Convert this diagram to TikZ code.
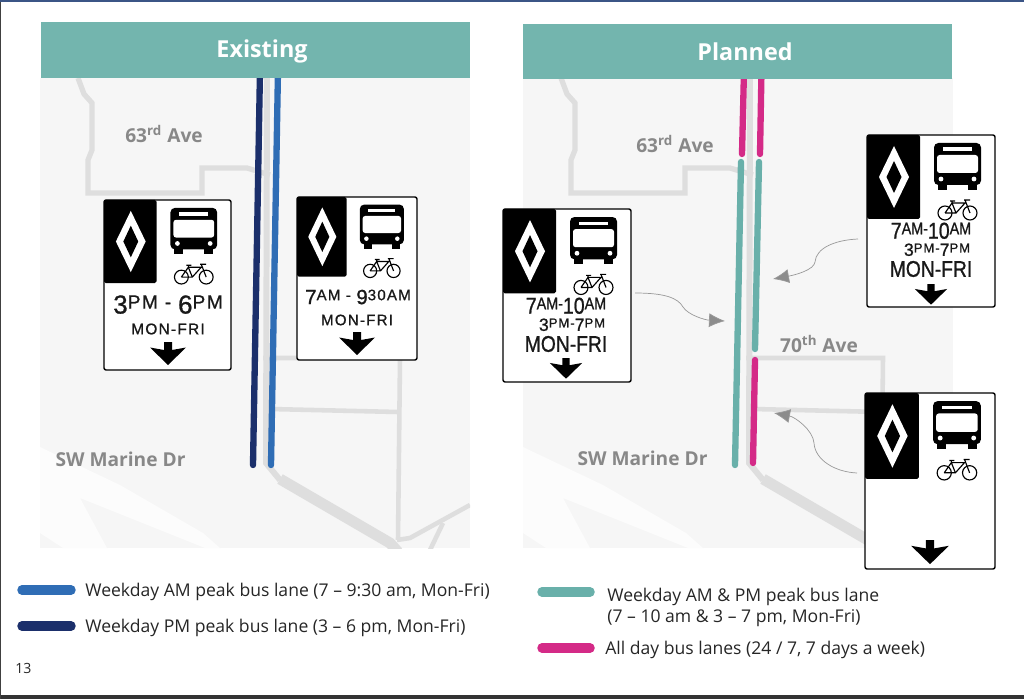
\documentclass[tikz,border=0pt]{standalone}
\usepackage{fontspec}
\setmainfont{Open Sans}
\newfontfamily\signfont[FakeStretch=0.85, FakeBold=0.9]{Liberation Sans}
\newfontfamily\signwide[LetterSpace=8, FakeBold=0.9]{Liberation Sans}
\usetikzlibrary{arrows.meta}
\definecolor{teal}{HTML}{73B5AE}
\definecolor{topband}{HTML}{3B5586}
\definecolor{lanenavy}{HTML}{1B2F6B}
\definecolor{laneblue}{HTML}{2F6DB5}
\definecolor{laneteal}{HTML}{69B0AA}
\definecolor{lanepink}{HTML}{D42A87}
\definecolor{roadgrey}{HTML}{DEDEDE}
\definecolor{mapgrey}{HTML}{F6F6F6}
\definecolor{labelgrey}{HTML}{888888}
\tikzstyle{header}=[fill=teal, minimum width=8.58cm, minimum height=1.12cm, inner sep=0pt]
\tikzstyle{headertext}=[text=white, font=\bfseries\fontsize{13.3}{13.3}\selectfont, inner sep=0pt]
\tikzstyle{road}=[draw=roadgrey, line width=3pt]
\tikzstyle{thinroad}=[draw=roadgrey, line width=2.6pt]
\tikzstyle{lane}=[line width=3.6pt, line cap=round]
\tikzstyle{legendline}=[line width=5.4pt, line cap=round]
\tikzstyle{maplabel}=[text=labelgrey, font=\bfseries\fontsize{10.9}{10.9}\selectfont, inner sep=0pt]
\tikzstyle{legendtext}=[anchor=west, align=left, inner sep=0pt, text=black!85, font=\fontsize{10}{12}\selectfont]
\tikzstyle{signbox}=[draw=black, fill=white, line width=.8pt, rounded corners=1.2pt, inner sep=0pt]
\tikzstyle{signtext}=[inner sep=0pt, text=black!90]
\tikzstyle{curl}=[draw=black!40, line width=.4pt, -{Latex[length=3.2mm, width=2.8mm, fill=black!45]}]
\newcommand{\bigd}[1]{\smash{\raisebox{-.26em}{\scalebox{1.36}{#1}}}}
\newcommand{\mapbase}[1]{
	\begin{scope}[shift={(#1,0)}]
		\clip (40,78) rectangle (470,548);
		\fill[mapgrey] (40,78) rectangle (470,548);
		\fill[white!70!mapgrey] (40,447) -- (120,485) -- (203,533) -- (220,548) -- (205,548) -- (80,498) -- (107,548) -- (63,548) -- (40,533) -- cycle;
		\path[road] (78,78) -- (84,94) -- (92,103) -- (92,150) -- (88,160) -- (88,193) -- (202,193) -- (202,168) -- (247,168) -- (270,175);
		\path[road, line width=3.4pt] (267,78) -- (266,463) -- (280,480);
		\path[road, line width=6.2pt] (280,479) -- (390,543) -- (398,552);
		\path[thinroad] (263,358) -- (400,358) -- (398,540);
		\path[thinroad] (270,409) -- (398,412);
		\path[thinroad] (397,540) -- (410,538) -- (470,505);
		\path[thinroad] (430,550) -- (443,523);
	\end{scope}
}
\newcommand{\hovsign}[5]{
	\node (#1) at ({#2+#4/2},{#3+#5/2})[signbox, minimum width=#4*0.02cm, minimum height=#5*0.02cm] {};
	\begin{scope}[shift={(#2,#3)}, xscale=#4/128, yscale=#5/172]
		\fill[black, rounded corners=1pt] (0,0) rectangle (53,84);
		\fill[white] (27,11) -- (42,42) -- (27,73) -- (12,42) -- cycle;
		\fill[black] (27,26) -- (34.5,42) -- (27,58) -- (19.5,42) -- cycle;
		\fill[black, rounded corners=2.5pt] (67,8) rectangle (114,50);
		\fill[black] (71,49) rectangle (80,55);
		\fill[black] (101,49) rectangle (110,55);
		\fill[white, rounded corners=1.5pt] (70,20) rectangle (111,38);
		\fill[white] (76,12.5) rectangle (105,16);
		\fill[white] (74,44) circle [radius=2.4];
		\fill[white] (107,44) circle [radius=2.4];
		\draw[black, line width=.65pt] (78,78) circle [radius=7];
		\draw[black, line width=.65pt] (103,78) circle [radius=7];
		\draw[black, line width=.65pt] (78,78) -- (85,68) -- (98,68) -- (89,78) -- (78,78) (85,68) -- (89,78) (83,66) -- (88,66) (85,66) -- (85,68) (97,65) -- (103,65) (98,65) -- (103,78);
	\end{scope}
}
\newcommand{\signarrow}[3]{
	\fill[black, shift={(#1,#2)}, scale=#3] (-4,0) -- (4,0) -- (4,8) -- (18,5.5) -- (0,23) -- (-18,5.5) -- (-4,8) -- cycle;
}
\begin{document}
\begin{tikzpicture}[x=.02cm, y=-.02cm]
		   \useasboundingbox (0,0) rectangle (1024,699);
		   \fill[white] (0,0) rectangle (1024,699);
		   \fill[black!80] (0,695) rectangle (1024,699);
		   \fill[black!75] (0,0) rectangle (1,699);
		   \fill[topband] (0,0) rectangle (1024,2.5);

		   \begin{scope}
			   \mapbase{0}
		   \end{scope}
		   \begin{scope}
			   \mapbase{483}
		   \end{scope}

		   \begin{scope}
			   \draw[lane, lanenavy] (260,70) -- (253,465);
			   \draw[lane, laneblue] (278,70) -- (271,465);

			   \draw[lane, lanepink] (744,70) -- (742,154);
			   \draw[lane, lanepink] (761.5,70) -- (760,154);
			   \draw[lane, laneteal] (741,162) -- (735,465);
			   \draw[lane, laneteal] (759,162) -- (755,349);
			   \draw[lane, lanepink] (755,360) -- (753,463);
		   \end{scope}

		   \begin{scope}
			   \node (existing) at (255.5,50)[header] {};
			   \node (existingtext) at (262,51)[headertext] {Existing};
			   \node (planned) at (737.5,51.5)[header] {};
			   \node (plannedtext) at (745,51.5)[headertext] {Planned};

			   \node (ave63a) at (164,134)[maplabel] {63\textsuperscript{rd} Ave};
			   \node (ave63b) at (675,144)[maplabel] {63\textsuperscript{rd} Ave};
			   \node (ave70) at (819,344)[maplabel] {70\textsuperscript{th} Ave};
			   \node (marinea) at (120.5,459)[maplabel] {SW Marine Dr};
			   \node (marineb) at (642.5,458)[maplabel] {SW Marine Dr};
		   \end{scope}

		   \begin{scope}
			   \hovsign{signa}{104}{200}{127}{170}
			   \node (signatime) at (168,302)[signtext, font=\signwide\fontsize{10.9}{10.9}\selectfont] {\bigd{3}PM - \bigd{6}PM};
			   \node (signadays) at (168,329)[signtext, font=\signwide\fontsize{8.8}{8.8}\selectfont] {MON-FRI};
			   \signarrow{168}{342}{1}

			   \hovsign{signb}{297}{197}{120}{163}
			   \node (signbtime) at (358,295)[signtext, font=\signwide\fontsize{8.6}{8.6}\selectfont] {\bigd{7}AM - \bigd{9}30AM};
			   \node (signbdays) at (357,320)[signtext, font=\signwide\fontsize{8.6}{8.6}\selectfont] {MON-FRI};
			   \signarrow{357}{332}{1}

			   \hovsign{signc}{503}{209}{128}{173}
			   \node (signctime) at (566,303.5)[signtext, font=\signfont\fontsize{9.6}{9.6}\selectfont] {\bigd{7}AM-\bigd{10}AM};
			   \node (signcpm) at (572,323)[signtext, font=\signwide\fontsize{7.4}{7.4}\selectfont] {\bigd{3}PM-\bigd{7}PM};
			   \node (signcdays) at (566,344)[signtext, font=\signfont\fontsize{12.9}{12.9}\selectfont] {MON-FRI};
			   \signarrow{566}{358}{.9}

			   \hovsign{signd}{867}{135}{128}{172}
			   \node (signdtime) at (931,228.5)[signtext, font=\signfont\fontsize{9.6}{9.6}\selectfont] {\bigd{7}AM-\bigd{10}AM};
			   \node (signdpm) at (937,248)[signtext, font=\signwide\fontsize{7.4}{7.4}\selectfont] {\bigd{3}PM-\bigd{7}PM};
			   \node (signddays) at (931,269)[signtext, font=\signfont\fontsize{12.9}{12.9}\selectfont] {MON-FRI};
			   \signarrow{931}{284}{.9}

			   \hovsign{signe}{865}{393}{130}{176}
			   \signarrow{930}{540}{1.05}
		   \end{scope}

		   \begin{scope}
			   \coordinate (curlc) at (635,293);
			   \coordinate (lanec) at (725,321);
			   \coordinate (curld) at (858,239);
			   \coordinate (laned) at (773,279);
			   \coordinate (curle) at (857,473);
			   \coordinate (lanee) at (774,413);
			   \path[curl] (curlc) .. controls (665,293) and (678,298) .. (683,307) .. controls (688,315) and (705,320) .. (lanec);
			   \path[curl] (curld) .. controls (835,240) and (816,248) .. (815,262) .. controls (814,270) and (795,275) .. (laned);
			   \path[curl] (curle) .. controls (835,472) and (815,460) .. (814,443) .. controls (813,430) and (795,417) .. (lanee);
		   \end{scope}

		   \begin{scope}
			   \draw[legendline, laneblue] (22,590) -- (71,590);
			   \draw[legendline, lanenavy] (22,626) -- (71,626);
			   \draw[legendline, laneteal] (542,592) -- (590,592);
			   \draw[legendline, lanepink] (542,648) -- (590,648);
			   \node (amtext) at (85,592)[legendtext] {Weekday AM peak bus lane (7 – 9:30 am, Mon-Fri)};
			   \node (pmtext) at (85,627.5)[legendtext] {Weekday PM peak bus lane (3 – 6 pm, Mon-Fri)};
			   \node (bothtext) at (607,607)[legendtext] {Weekday AM \& PM peak bus lane\\(7 – 10 am \& 3 – 7 pm, Mon-Fri)};
			   \node (alldaytext) at (605,650)[legendtext] {All day bus lanes (24 / 7, 7 days a week)};
			   \node (pagenum) at (15,668)[legendtext, font=\fontsize{8}{8}\selectfont] {13};
		   \end{scope}
	   \end{tikzpicture}
\end{document}
